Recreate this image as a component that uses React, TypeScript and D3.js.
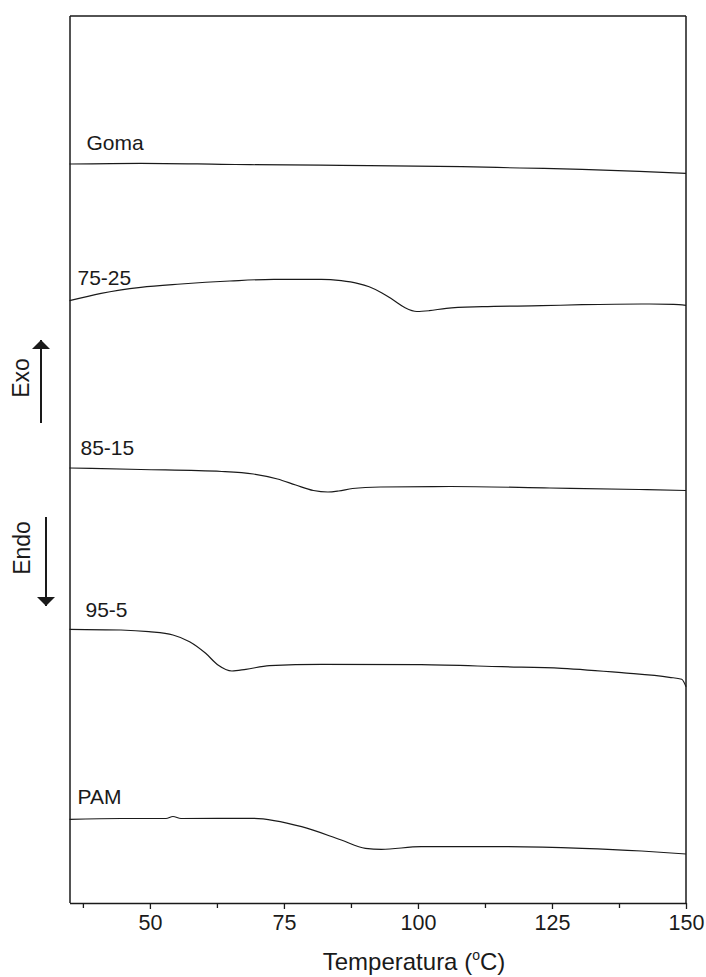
import React, { useEffect, useRef } from "react";
import * as d3 from "d3";

// Temperature (°C) and heat flow (arbitrary units, stacked offsets)
const gomaT = [35, 48.3, 63.4, 68.8, 85.7, 108.2, 119, 130.6, 141.3, 150];
const gomaV = [739, 739.7, 738.7, 738.3, 737.7, 736.3, 735, 733.7, 731.7, 729.7];

const s7525T = [35, 40.9, 48.3, 55.8, 64.9, 73.1, 82.0, 85.7, 88.7, 90.9, 93.2, 95.4, 97.6, 99.8, 102.1, 105.3, 112.0, 123.1, 130.6, 141.7, 147.7, 150];
const s7525V = [602.3, 609.7, 615.7, 619, 622, 623.7, 623.7, 622.3, 619.7, 616.3, 610.3, 603, 595.3, 591.5, 592.3, 594.7, 596.3, 597.3, 598.3, 599, 598.7, 597.7];

const s8515T = [35, 48.3, 63.4, 69.3, 73.8, 77.2, 80.5, 83.2, 85.2, 87.8, 93, 106, 124.6, 141.3, 150];
const s8515V = [435, 433.5, 431.5, 429, 424, 418, 412.5, 411, 412, 414.5, 416, 416.5, 415, 413.5, 412.5];

const s955T = [35, 44.6, 49.8, 54.3, 57.4, 60.4, 62.7, 65.3, 67.9, 72.3, 82, 100.6, 115.7, 126.8, 138, 146.9, 149.2, 150];
const s955V = [273.7, 273, 271.3, 268, 261.3, 249.7, 238, 232, 233.7, 237.3, 238.7, 238.3, 236.3, 234.7, 230.3, 225.7, 223.7, 216.3];

const pamT = [35, 44.6, 53, 54.3, 55.8, 69.3, 78.3, 85.7, 90.2, 93.2, 100.6, 115.7, 130.6, 141.7, 150];
const pamV = [83.7, 84.5, 84.5, 86.5, 84.5, 84.7, 76.3, 63, 54.7, 53.7, 56.3, 56.3, 54.7, 52, 49];

const seriesNames = ["Goma", "75-25", "85-15", "95-5", "PAM"];
const majorTicks = [50, 75, 100, 125, 150];
const minorTicks = [37.5, 62.5, 87.5, 112.5, 137.5];

const W = 706;
const H = 977;
const M = { left: 70, right: 686, top: 16, bottom: 903 };

export default function App() {
  const ref = useRef<SVGSVGElement | null>(null);

  useEffect(() => {
    const svg = d3.select(ref.current);
    svg.selectAll("*").remove();

    const x = d3.scaleLinear().domain([35, 150]).range([M.left - 0.5, M.right]);
    const y = d3.scaleLinear().domain([0, 887]).range([M.bottom, M.top]);

    const font = "'Liberation Sans', Arial, sans-serif";
    const ink = "#1a1a1a";

    // frame
    svg.append("line").attr("x1", M.left).attr("x2", M.left).attr("y1", M.top).attr("y2", M.bottom).attr("stroke", ink).attr("stroke-width", 1.5);
    svg.append("line").attr("x1", M.right).attr("x2", M.right).attr("y1", M.top).attr("y2", M.bottom).attr("stroke", ink).attr("stroke-width", 1.5);
    svg.append("line").attr("x1", M.left).attr("x2", M.right).attr("y1", M.top).attr("y2", M.top).attr("stroke", ink).attr("stroke-width", 1.3);

    // bottom axis
    const gx = svg.append("g").attr("transform", `translate(0,${M.bottom})`);
    gx.call(d3.axisBottom(x).tickValues(majorTicks).tickSize(6).tickSizeOuter(0).tickFormat(d3.format("d")) as any);
    gx.select(".domain").attr("stroke", ink).attr("stroke-width", 1.5);
    gx.selectAll(".tick line").attr("stroke", ink).attr("stroke-width", 1.3);
    gx.selectAll(".tick text").attr("font-family", font).attr("font-size", 21.5).attr("fill", ink).attr("dy", "0.86em");
    const gm = svg.append("g").attr("transform", `translate(0,${M.bottom})`);
    gm.call(d3.axisBottom(x).tickValues(minorTicks).tickSize(5).tickSizeOuter(0).tickFormat(() => "") as any);
    gm.select(".domain").remove();
    gm.selectAll(".tick line").attr("stroke", ink).attr("stroke-width", 1.3);

    // axis title
    const title = svg.append("text")
      .attr("x", 414)
      .attr("y", 970)
      .attr("text-anchor", "middle")
      .attr("font-family", font)
      .attr("font-size", 24)
      .attr("fill", ink);
    title.append("tspan").text("Temperatura (");
    title.append("tspan").text("o").attr("font-size", 14).attr("dy", -10);
    title.append("tspan").text("C)").attr("dy", 10);

    // series
    const data: [number[], number[], number, number][] = [
      [gomaT, gomaV, 17, 14],
      [s7525T, s7525V, 8, 16],
      [s8515T, s8515V, 11, 13],
      [s955T, s955V, 16, 12],
      [pamT, pamV, 8, 15],
    ];
    const line = d3.line<[number, number]>()
      .x((d) => x(d[0]))
      .y((d) => y(d[1]))
      .curve(d3.curveMonotoneX);

    data.forEach(([ts, vs, dx, dy], i) => {
      const pts = ts.map((t, j) => [t, vs[j]] as [number, number]);
      svg.append("path")
        .attr("d", line(pts) as string)
        .attr("fill", "none")
        .attr("stroke", ink)
        .attr("stroke-width", 1.2);
      svg.append("text")
        .attr("x", x(ts[0]) + dx)
        .attr("y", y(vs[0]) - dy)
        .attr("font-family", font)
        .attr("font-size", 21)
        .attr("fill", ink)
        .text(seriesNames[i]);
    });

    // Exo / Endo annotations
    const defs = svg.append("defs");
    defs.append("marker")
      .attr("id", "ah")
      .attr("viewBox", "0 0 10 20")
      .attr("refX", 10)
      .attr("refY", 10)
      .attr("markerWidth", 9)
      .attr("markerHeight", 20)
      .attr("markerUnits", "userSpaceOnUse")
      .attr("orient", "auto")
      .append("path")
      .attr("d", "M0,0 L10,10 L0,20 Z")
      .attr("fill", ink);

    svg.append("text")
      .attr("transform", `translate(29,378) rotate(-90)`)
      .attr("text-anchor", "middle")
      .attr("font-family", font)
      .attr("font-size", 23)
      .attr("fill", ink)
      .text("Exo");
    svg.append("line")
      .attr("x1", 41).attr("x2", 41).attr("y1", 423).attr("y2", 340)
      .attr("stroke", ink).attr("stroke-width", 2)
      .attr("marker-end", "url(#ah)");

    svg.append("text")
      .attr("transform", `translate(30,548) rotate(-90)`)
      .attr("text-anchor", "middle")
      .attr("font-family", font)
      .attr("font-size", 23)
      .attr("fill", ink)
      .text("Endo");
    svg.append("line")
      .attr("x1", 46).attr("x2", 46).attr("y1", 517).attr("y2", 606)
      .attr("stroke", ink).attr("stroke-width", 2)
      .attr("marker-end", "url(#ah)");
  }, []);

  return (
    <svg
      ref={ref}
      width={W}
      height={H}
      style={{ position: "absolute", left: 0, top: 0, background: "#fff" }}
    />
  );
}
